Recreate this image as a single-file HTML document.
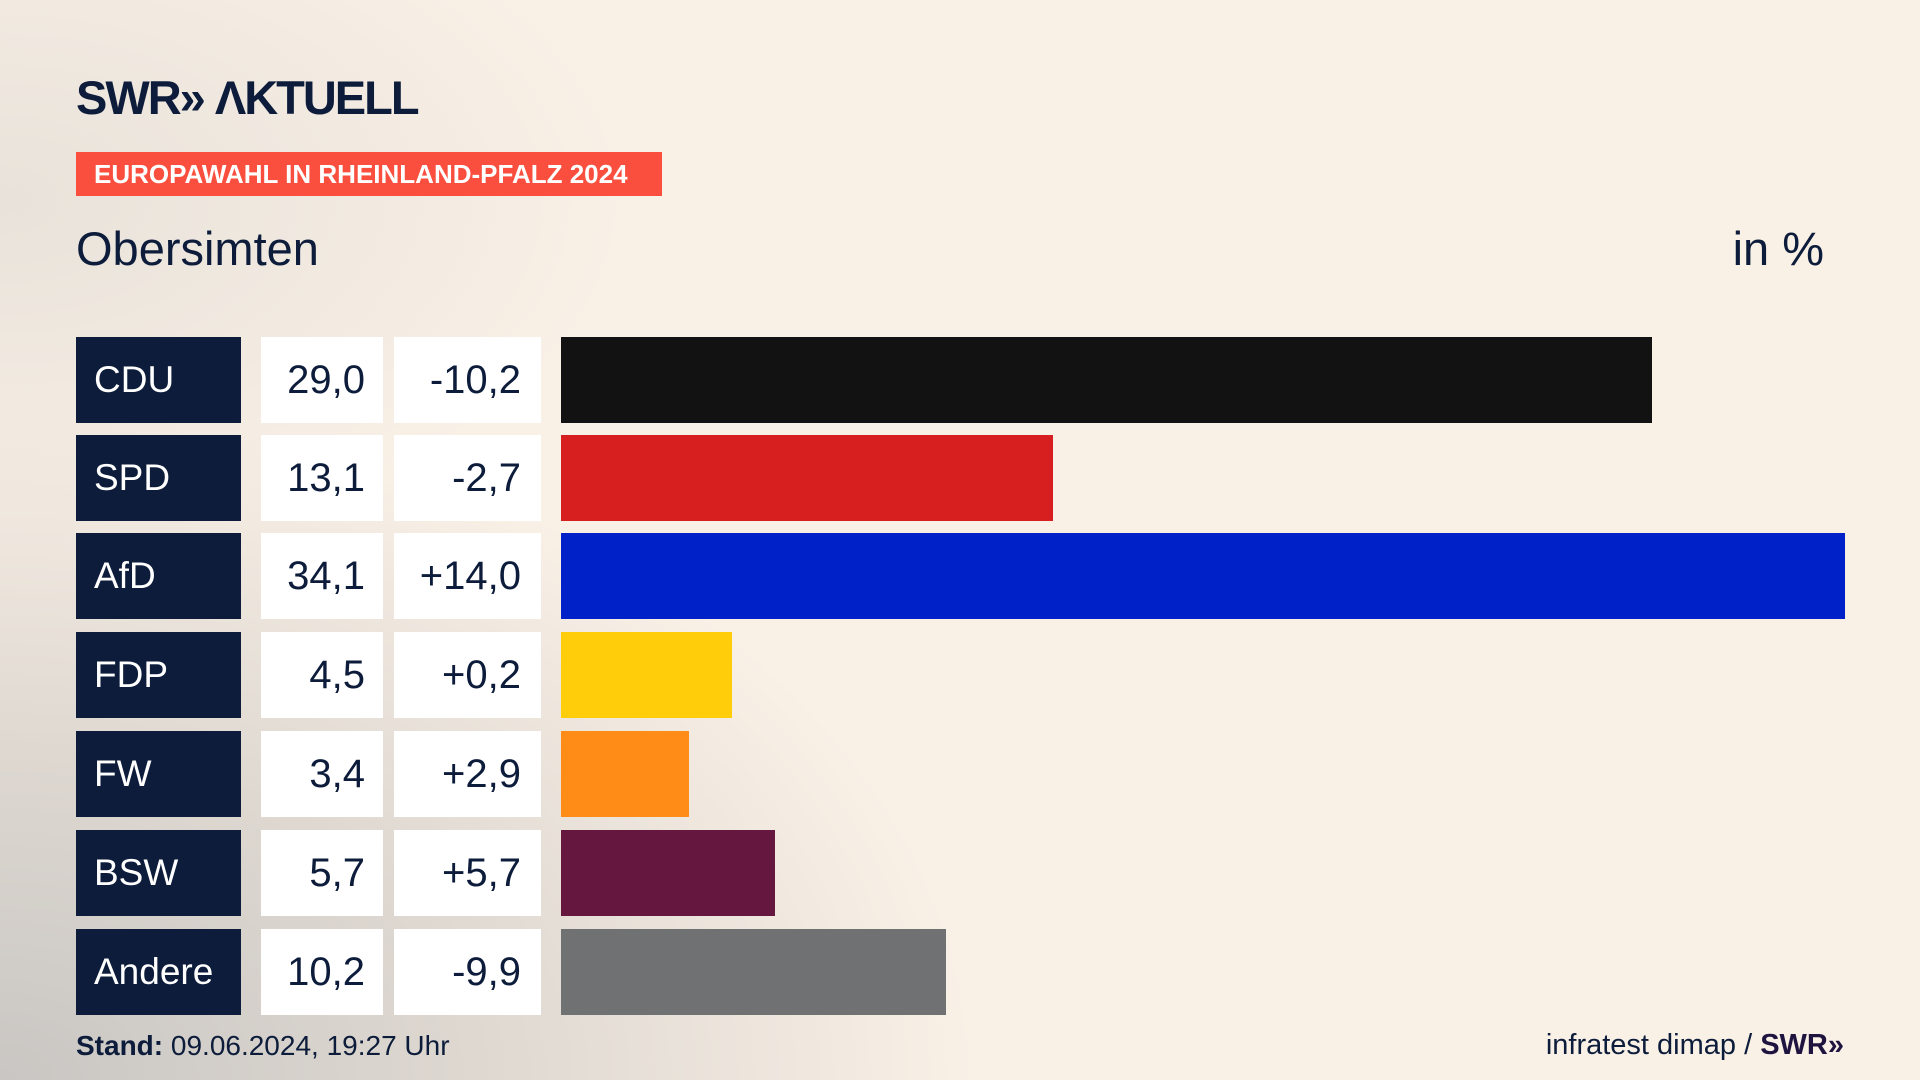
<!DOCTYPE html>
<html><head><meta charset="utf-8"><style>
*{margin:0;padding:0;box-sizing:border-box}
body{width:1920px;height:1080px;overflow:hidden;position:relative;font-family:"Liberation Sans","DejaVu Sans",sans-serif;color:#0c1c3a;
background:radial-gradient(ellipse 1300px 900px at 0px 1080px,#c9c6c3 0%,#ddd7d0 35%,rgba(248,240,230,0) 75%),radial-gradient(ellipse 900px 500px at 0px 200px,#e8e2da 0%,rgba(248,240,230,0) 70%),#f9f0e6;}
.logo{position:absolute;left:76px;top:70px;font-size:47px;font-weight:900;letter-spacing:-2px;color:#0c1c3a}
.banner{position:absolute;left:76px;top:152px;width:586px;height:44px;background:#fa4f3e;color:#fff;font-weight:bold;font-size:26px;line-height:44px;padding-left:18px;white-space:nowrap}
.title{position:absolute;left:76px;top:221px;font-size:47px}
.unit{position:absolute;right:96px;top:221px;font-size:47px}
.row{position:absolute;left:0;height:86px}
.p{position:absolute;left:76px;width:165px;height:86px;background:#0c1c3a;color:#fff;font-size:37px;line-height:86px;padding-left:18px}
.v{position:absolute;left:261px;width:122px;height:86px;background:#fff;font-size:40px;line-height:86px;text-align:right;padding-right:18px}
.c{position:absolute;left:394px;width:147px;height:86px;background:#fff;font-size:40px;line-height:86px;text-align:right;padding-right:20px}
.b{position:absolute;left:561px;height:86px}
.foot{position:absolute;left:76px;top:1030px;font-size:28px}
.src{position:absolute;right:76px;top:1029px;font-size:29px}
</style></head><body>
<div class="logo">SWR» ɅKTUELL</div>
<div class="banner">EUROPAWAHL IN RHEINLAND-PFALZ 2024</div>
<div class="title">Obersimten</div>
<div class="unit">in %</div>

<div class="row" style="top:337px"><div class="p">CDU</div><div class="v">29,0</div><div class="c">-10,2</div><div class="b" style="width:1091px;background:#121212"></div></div>
<div class="row" style="top:435px"><div class="p">SPD</div><div class="v">13,1</div><div class="c">-2,7</div><div class="b" style="width:492px;background:#d71f1f"></div></div>
<div class="row" style="top:533px"><div class="p">AfD</div><div class="v">34,1</div><div class="c">+14,0</div><div class="b" style="width:1284px;background:#0021c8"></div></div>
<div class="row" style="top:632px"><div class="p">FDP</div><div class="v">4,5</div><div class="c">+0,2</div><div class="b" style="width:171px;background:#ffcd0a"></div></div>
<div class="row" style="top:731px"><div class="p">FW</div><div class="v">3,4</div><div class="c">+2,9</div><div class="b" style="width:128px;background:#ff8c17"></div></div>
<div class="row" style="top:830px"><div class="p">BSW</div><div class="v">5,7</div><div class="c">+5,7</div><div class="b" style="width:214px;background:#66173f"></div></div>
<div class="row" style="top:929px"><div class="p">Andere</div><div class="v">10,2</div><div class="c">-9,9</div><div class="b" style="width:385px;background:#707172"></div></div>

<div class="foot"><b>Stand:</b> 09.06.2024, 19:27 Uhr</div>
<div class="src">infratest dimap / <b style="color:#1f1440">SWR»</b></div>
</body></html>
